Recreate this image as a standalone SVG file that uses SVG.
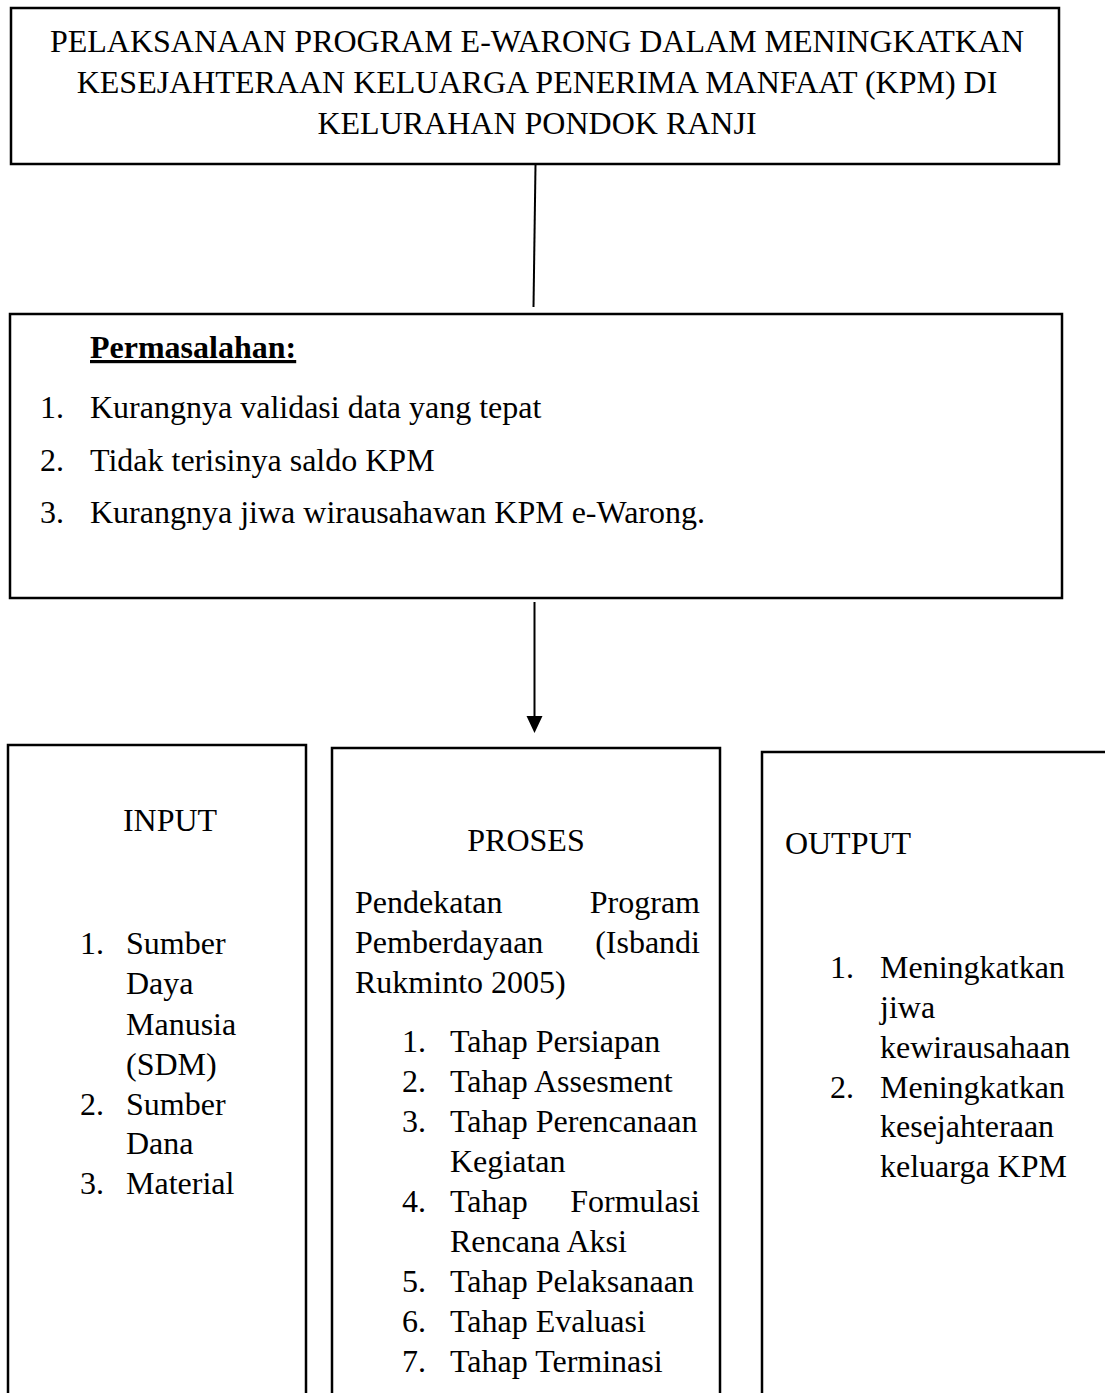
<svg xmlns="http://www.w3.org/2000/svg" width="1105" height="1393" viewBox="0 0 1105 1393">
<style>
  .box{fill:#fff;stroke:#000;stroke-width:2.5}
  .t{font-family:"Liberation Serif","Times New Roman",serif;font-size:32px;fill:#000}
  .c{text-anchor:middle}
  .e{text-anchor:end}
  .conn{stroke:#000;stroke-width:2;fill:none}
</style>
<rect width="1105" height="1393" fill="#fff"/>

<g id="connectors">
  <line class="conn" x1="535.5" y1="165" x2="533.5" y2="307"/>
  <line class="conn" x1="534.5" y1="602" x2="534.5" y2="718" stroke-width="1.5"/>
  <path d="M526.5,716 L542.5,716 L534.5,733 Z" fill="#000"/>
</g>

<g id="title">
  <rect class="box" x="11" y="8" width="1048" height="156"/>
  <text class="t c" x="537" y="52">PELAKSANAAN PROGRAM E-WARONG DALAM MENINGKATKAN</text>
  <text class="t c" x="537" y="93">KESEJAHTERAAN KELUARGA PENERIMA MANFAAT (KPM) DI</text>
  <text class="t c" x="537" y="134">KELURAHAN PONDOK RANJI</text>
</g>

<g id="permasalahan">
  <rect class="box" x="10" y="314" width="1052" height="284"/>
  <text class="t" x="90" y="358" font-weight="bold" text-decoration="underline">Permasalahan:</text>
  <text class="t" x="40" y="418">1.</text><text class="t" x="90" y="418">Kurangnya validasi data yang tepat</text>
  <text class="t" x="40" y="471">2.</text><text class="t" x="90" y="471">Tidak terisinya saldo KPM</text>
  <text class="t" x="40" y="523">3.</text><text class="t" x="90" y="523">Kurangnya jiwa wirausahawan KPM e-Warong.</text>
</g>

<g id="input">
  <rect class="box" x="8" y="745" width="298" height="700"/>
  <text class="t c" x="170" y="831">INPUT</text>
  <text class="t" x="80" y="954">1.</text><text class="t" x="126" y="954">Sumber</text>
  <text class="t" x="126" y="994">Daya</text>
  <text class="t" x="126" y="1035">Manusia</text>
  <text class="t" x="126" y="1075">(SDM)</text>
  <text class="t" x="80" y="1115">2.</text><text class="t" x="126" y="1115">Sumber</text>
  <text class="t" x="126" y="1154">Dana</text>
  <text class="t" x="80" y="1194">3.</text><text class="t" x="126" y="1194">Material</text>
</g>

<g id="proses">
  <rect class="box" x="332" y="748" width="388" height="700"/>
  <text class="t c" x="526" y="851">PROSES</text>
  <text class="t" x="355" y="913">Pendekatan</text><text class="t e" x="700" y="913">Program</text>
  <text class="t" x="355" y="953">Pemberdayaan</text><text class="t e" x="700" y="953">(Isbandi</text>
  <text class="t" x="355" y="993">Rukminto 2005)</text>
  <text class="t" x="402" y="1052">1.</text><text class="t" x="450" y="1052">Tahap Persiapan</text>
  <text class="t" x="402" y="1092">2.</text><text class="t" x="450" y="1092">Tahap Assesment</text>
  <text class="t" x="402" y="1132">3.</text><text class="t" x="450" y="1132">Tahap Perencanaan</text>
  <text class="t" x="450" y="1172">Kegiatan</text>
  <text class="t" x="402" y="1212">4.</text><text class="t" x="450" y="1212">Tahap</text><text class="t e" x="700" y="1212">Formulasi</text>
  <text class="t" x="450" y="1252">Rencana Aksi</text>
  <text class="t" x="402" y="1292">5.</text><text class="t" x="450" y="1292">Tahap Pelaksanaan</text>
  <text class="t" x="402" y="1332">6.</text><text class="t" x="450" y="1332">Tahap Evaluasi</text>
  <text class="t" x="402" y="1372">7.</text><text class="t" x="450" y="1372">Tahap Terminasi</text>
</g>

<g id="output">
  <rect class="box" x="762" y="752" width="400" height="700"/>
  <text class="t c" x="848" y="854">OUTPUT</text>
  <text class="t" x="830" y="978">1.</text><text class="t" x="880" y="978">Meningkatkan</text>
  <text class="t" x="880" y="1018">jiwa</text>
  <text class="t" x="880" y="1058">kewirausahaan</text>
  <text class="t" x="830" y="1098">2.</text><text class="t" x="880" y="1098">Meningkatkan</text>
  <text class="t" x="880" y="1137">kesejahteraan</text>
  <text class="t" x="880" y="1177">keluarga KPM</text>
</g>
</svg>
